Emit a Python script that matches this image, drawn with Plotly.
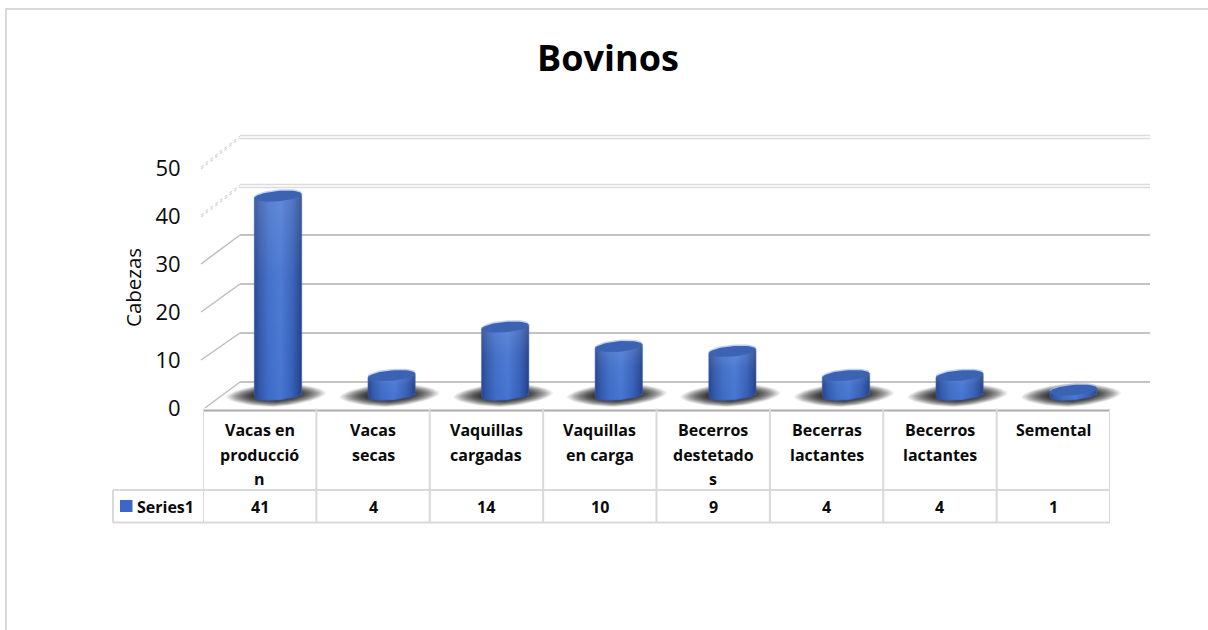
import math
import plotly.graph_objects as go

# ---------- data ----------
title_text = "Bovinos"
y_title = "Cabezas"
series_name = "Series1"
categories = ["Vacas en<br>producció<br>n", "Vacas<br>secas", "Vaquillas<br>cargadas",
              "Vaquillas<br>en carga", "Becerros<br>destetado<br>s", "Becerras<br>lactantes",
              "Becerros<br>lactantes", "Semental"]
values = [41, 4, 14, 10, 9, 4, 4, 1]
y_ticks = [0, 10, 20, 30, 40, 50]

# ---------- layout constants (pixels) ----------
W, H = 1208, 630
FONT = "Open Sans"
idx = list(range(len(values)))


def px(x):
    return x / W


def py(y):
    return 1 - y / H


COL_L, COL_R = 203, 1110
FRONT0, FRONT50 = 408, 168
BACK_L, BACK_R = 240, 1150
BACK0, BACK50 = 382, 137
BAR_C0, BAR_DX = 278, 113.6
BAR_Y0, BAR_PY = 395, 4.85
BAR_YMIN, BAR_YMAX = -5.5, 50
BAR_XMIN, BAR_XMAX = -0.62, 7.62
A, B, TILT = 23.5, 5.2, 0.085

STOPS = [[0, "rgb(36,66,140)"], [0.1, "rgb(48,86,168)"], [0.3, "rgb(62,108,198)"], [0.55, "rgb(70,118,210)"],
         [0.8, "rgb(54,96,184)"], [0.93, "rgb(42,76,155)"], [1, "rgb(32,60,128)"]]

fig = go.Figure()

fig.add_trace(go.Scatter(x=[0], y=[0], xaxis="x", yaxis="y", mode="markers",
                         marker=dict(opacity=0), showlegend=False, hoverinfo="skip"))

# ---------- floor shadows: soft stacked lenses, darkening towards the bar ----------
SH_A, SH_B = 50, 12
LAYERS = 26
for k in range(LAYERS):
    s = 1 - 0.62 * (k / (LAYERS - 1)) ** 0.9
    xs, ys = [], []
    for i, v in zip(idx, values):
        for n in range(49):
            t = 2 * math.pi * n / 48
            c, d = math.cos(t), math.sin(t)
            dx = SH_A * s * math.copysign(abs(c) ** 1.35, c)
            dy = SH_B * s * math.copysign(abs(d) ** 1.1, d) - 0.04 * dx
            xs.append(i + (dx - 2) / BAR_DX)
            ys.append(-dy / BAR_PY)
        xs.append(None)
        ys.append(None)
    fig.add_trace(go.Scatter(x=xs, y=ys, xaxis="x2", yaxis="y2", mode="lines", line=dict(width=0),
                             fill="toself", fillcolor="rgba(0,0,0,0.062)", showlegend=False,
                             hoverinfo="skip"))

# ---------- cylinder base bars ----------
fig.add_trace(go.Bar(x=idx, y=values, width=2 * A / BAR_DX, xaxis="x3", yaxis="y3",
                     marker=dict(color="#3e6cc4", line=dict(width=0)),
                     hovertext=[c.replace("<br>", "") for c in categories], hoverinfo="text+y",
                     showlegend=False))


def body(i, v):
    xs, ys = [], []
    n = 24
    for k in range(n + 1):
        dx = -A + 2 * A * k / n
        low = B * math.sqrt(max(0, 1 - (dx / A) ** 2)) - TILT * dx
        xs.append(i + dx / BAR_DX)
        ys.append(-low / BAR_PY)
    first_y = ys[0]
    xs += [i + A / BAR_DX, i - A / BAR_DX, i - A / BAR_DX]
    ys += [v + TILT * A / BAR_PY, v - TILT * A / BAR_PY, first_y]
    return xs, ys


for i, v in zip(idx, values):
    xs, ys = body(i, v)
    fig.add_trace(go.Scatter(x=xs, y=ys, xaxis="x3", yaxis="y3", mode="lines",
                             line=dict(width=1.5, color="rgba(60,90,165,0.45)"),
                             fill="toself", fillgradient=dict(type="horizontal", colorscale=STOPS),
                             showlegend=False, hoverinfo="skip"))
    fig.add_trace(go.Scatter(x=xs, y=ys, xaxis="x3", yaxis="y3", mode="lines", line=dict(width=0),
                             fill="toself",
                             fillgradient=dict(type="vertical",
                                               colorscale=[[0, "rgba(255,255,255,0)"],
                                                           [0.6, "rgba(255,255,255,0.04)"],
                                                           [1, "rgba(255,255,255,0.15)"]]),
                             showlegend=False, hoverinfo="skip"))


def ellipse(i, v, a, b, up=0.0):
    xs, ys = [], []
    for n in range(49):
        t = 2 * math.pi * n / 48
        dx = a * math.cos(t)
        dy = b * math.sin(t) - TILT * dx - up
        xs.append(i + dx / BAR_DX)
        ys.append(v - dy / BAR_PY)
    return xs, ys


hx, hy, tx, ty = [], [], [], []
for i, v in zip(idx, values):
    a, b = ellipse(i, v, A, B, up=1.5)
    hx += a + [None]
    hy += b + [None]
    a, b = ellipse(i, v, A, B)
    tx += a + [None]
    ty += b + [None]
fig.add_trace(go.Scatter(x=hx, y=hy, xaxis="x3", yaxis="y3", mode="lines", line=dict(width=0),
                         fill="toself", fillcolor="rgba(170,195,235,0.75)", showlegend=False,
                         hoverinfo="skip"))
fig.add_trace(go.Scatter(x=tx, y=ty, xaxis="x3", yaxis="y3", mode="lines", line=dict(width=0),
                         fill="toself", fillcolor="#3c62b4", showlegend=False, hoverinfo="skip"))

fig.add_trace(go.Scatter(x=[0], y=[0], xaxis="x4", yaxis="y4", mode="markers",
                         marker=dict(opacity=0), showlegend=False, hoverinfo="skip"))

# ---------- shapes ----------
shapes = []
GRID = "#c4c4c4"
GRID_L = "#dcdcdc"
front = lambda v: FRONT0 + (FRONT50 - FRONT0) * v / 50
back = lambda v: BACK0 + (BACK50 - BACK0) * v / 50
for v in y_ticks:
    light = v >= 40
    if light:
        for off in (-1.6, 1.6):
            shapes.append(dict(type="line", xref="paper", yref="paper", x0=px(BACK_L), x1=px(BACK_R),
                               y0=py(back(v) + off), y1=py(back(v) + off),
                               line=dict(color=GRID_L, width=1.5), layer="below"))
    else:
        shapes.append(dict(type="line", xref="paper", yref="paper", x0=px(BACK_L), x1=px(BACK_R),
                           y0=py(back(v)), y1=py(back(v)), line=dict(color=GRID, width=2), layer="below"))
    x_front = 205 if v == 0 else 201
    if light:
        for off in (-1, 1):
            shapes.append(dict(type="line", xref="paper", yref="paper", x0=px(x_front), x1=px(BACK_L),
                               y0=py(front(v) + off), y1=py(back(v) + off),
                               line=dict(color="#d6d6d6", width=1.2, dash="dot"), layer="below"))
    else:
        shapes.append(dict(type="line", xref="paper", yref="paper", x0=px(x_front), x1=px(BACK_L),
                           y0=py(front(v)), y1=py(back(v)), line=dict(color="#bdbdbd", width=1.5),
                           layer="below"))

TB = "#d9d9d9"
shapes.append(dict(type="path", xref="paper", yref="paper",
                   path=f"M {px(6)} 0 L {px(6)} {py(9)} L 1 {py(9)}",
                   line=dict(color=TB, width=2), layer="below"))
T_HDR, T_MID, T_BOT = 410.5, 490, 522.5
shapes.append(dict(type="line", xref="paper", yref="paper", x0=px(COL_L), x1=px(COL_R), y0=py(T_HDR), y1=py(T_HDR),
                   line=dict(color="#ababab", width=2), layer="above"))
for y_ in (T_MID, T_BOT):
    shapes.append(dict(type="line", xref="paper", yref="paper", x0=px(113), x1=px(COL_R), y0=py(y_), y1=py(y_),
                       line=dict(color=TB, width=2), layer="above"))
for i in range(len(values) + 1):
    shapes.append(dict(type="line", xref="x4", yref="paper", x0=i - 0.5, x1=i - 0.5, y0=py(T_HDR - 2), y1=py(T_BOT),
                       line=dict(color=TB, width=2), layer="above"))
shapes.append(dict(type="line", xref="paper", yref="paper", x0=px(113), x1=px(113), y0=py(T_MID), y1=py(T_BOT),
                   line=dict(color=TB, width=2), layer="above"))
shapes.append(dict(type="rect", xref="paper", yref="paper", x0=px(120), x1=px(132.5), y0=py(512), y1=py(500),
                   fillcolor="#3d67c4", line=dict(width=0), layer="above"))

# ---------- annotations ----------
annotations = []
ROWS = [430, 454.5, 479]
TBL = dict(family=FONT, size=16, color="#0a0a0a", weight="bold")
for i, c in enumerate(categories):
    for line, ry in zip(c.split("<br>"), ROWS):
        annotations.append(dict(text=line, xref="x4", yref="paper", x=i, y=py(ry), showarrow=False,
                                xanchor="center", yanchor="middle", font=TBL))
    annotations.append(dict(text=str(values[i]), xref="x4", yref="paper", x=i, y=py(506.5), showarrow=False,
                            xanchor="center", yanchor="middle", font=TBL))
annotations.append(dict(text=series_name, xref="paper", yref="paper", x=px(134.5), y=py(506.5), showarrow=False,
                        xanchor="left", yanchor="middle", font=TBL))
annotations.append(dict(text=y_title, xref="paper", yref="paper", x=px(133), y=py(288), showarrow=False,
                        xanchor="center", yanchor="middle", textangle=-90,
                        font=dict(family=FONT, size=20.5, color="#0a0a0a")))


def dom(left, right):
    return [left / W, right / W]


def vdom(bottom, top):
    return [1 - bottom / H, 1 - top / H]


hidden = dict(visible=False, showgrid=False, zeroline=False, fixedrange=True)
bar_xdom = dom(BAR_C0 + BAR_XMIN * BAR_DX, BAR_C0 + BAR_XMAX * BAR_DX)
bar_ydom = vdom(BAR_Y0 - BAR_YMIN * BAR_PY, BAR_Y0 - BAR_YMAX * BAR_PY)

fig.update_layout(
    width=W, height=H, autosize=False,
    margin=dict(l=0, r=0, t=0, b=0),
    paper_bgcolor="white", plot_bgcolor="rgba(0,0,0,0)",
    barmode="overlay", showlegend=False,
    shapes=shapes, annotations=annotations,
    title=dict(text=title_text, x=608 / W, xanchor="center", y=py(58), yanchor="middle",
               font=dict(family=FONT, size=36, color="#000000", weight="bold")),
    xaxis=dict(domain=dom(BACK_L, BACK_R), range=[0, 1], anchor="y", **hidden),
    yaxis=dict(domain=vdom(BACK0, BACK50), range=[0, 50], anchor="x", **hidden),
    xaxis2=dict(domain=bar_xdom, range=[BAR_XMIN, BAR_XMAX], anchor="y2", **hidden),
    yaxis2=dict(domain=bar_ydom, range=[BAR_YMIN, BAR_YMAX], anchor="x2", **hidden),
    xaxis3=dict(domain=bar_xdom, range=[BAR_XMIN, BAR_XMAX], anchor="y3", **hidden),
    yaxis3=dict(domain=bar_ydom, range=[BAR_YMIN, BAR_YMAX], anchor="x3", **hidden),
    xaxis4=dict(domain=dom(COL_L, COL_R), range=[-0.5, len(values) - 0.5], anchor="y4",
                showticklabels=False, showgrid=False, zeroline=False, showline=False, ticks="", fixedrange=True),
    yaxis4=dict(domain=vdom(FRONT0, FRONT50), range=[0, 50], anchor="x4", tickvals=y_ticks,
                ticks="outside", ticklen=17, tickcolor="rgba(0,0,0,0)", showgrid=False, zeroline=False,
                showline=False, fixedrange=True, automargin=False,
                tickfont=dict(family=FONT, size=22, color="#0a0a0a")),
)

fig.write_html("out.html", post_script="document.body.style.margin='0';", config=dict(displayModeBar=False))
